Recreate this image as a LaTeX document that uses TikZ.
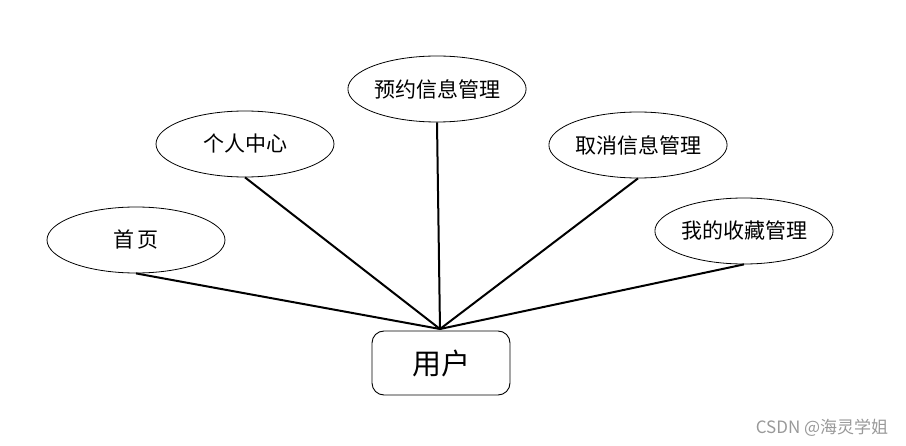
\documentclass[tikz,border=0pt]{standalone}
\usepackage{fontspec}
\setmainfont{Noto Sans CJK SC}
\newfontfamily\cjk{Noto Sans CJK SC}
\usetikzlibrary{shapes.geometric}
\begin{document}
\begin{tikzpicture}[x=1pt,y=-1pt,
  ell/.style={draw,ellipse,line width=0.8pt,minimum width=178pt,minimum height=66pt,inner sep=0pt,font=\cjk\fontsize{21}{21}\selectfont},
  conn/.style={line width=2pt}]
\useasboundingbox (0,0) rectangle (906,446);
\node[ell] (shouye) at (136,240) {首\,页};
\node[ell] (geren) at (245,144) {个人中心};
\node[ell] (yuyue) at (437,89) {预约信息管理};
\node[ell] (quxiao) at (638,145) {取消信息管理};
\node[ell] (shoucang) at (744,231) {我的收藏管理};
\node[draw,rounded corners=12pt,line width=0.9pt,minimum width=138pt,minimum height=64pt,inner sep=0pt,font=\cjk\fontsize{29}{29}\selectfont] (user) at (441,363) {用户};
\coordinate (hub) at (440,329);
\draw[conn] (shouye.south) -- (hub);
\draw[conn] (geren.south) -- (hub);
\draw[conn] (yuyue.south) -- (hub);
\draw[conn] (quxiao.south) -- (hub);
\draw[conn] (shoucang.south) -- (hub);
\node[text=gray!80,font=\cjk\fontsize{17}{17}\selectfont] (wm) at (822,428) {CSDN @海灵学姐};
\end{tikzpicture}
\end{document}
